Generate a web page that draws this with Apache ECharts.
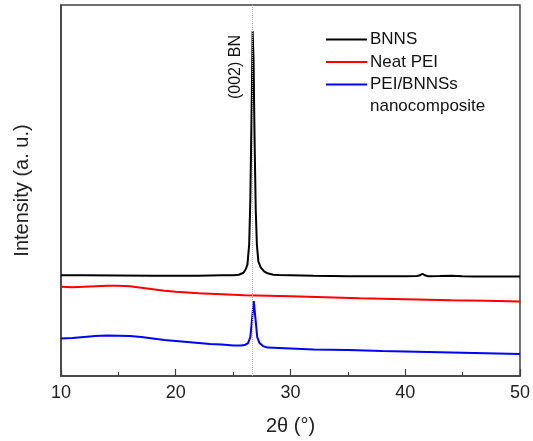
<!DOCTYPE html>
<html>
<head>
<meta charset="utf-8">
<script src="https://cdn.jsdelivr.net/npm/echarts@6/dist/echarts.min.js"></script>
<style>
  html, body { margin: 0; padding: 0; background: #fff; }
  #main { width: 533px; height: 441px; }
</style>
</head>
<body>
<div id="main"></div>
<script>
'use strict'
// 2-theta (deg) and intensity (a. u.)
var bnnsX = [10, 12, 15, 18, 20, 22, 24, 25, 25.5, 25.9, 26.1, 26.25, 26.4, 26.5, 26.6, 26.7,
  26.78, 26.87, 26.97, 27.07, 27.2, 27.4, 27.7, 28, 28.5, 29, 30, 32, 35, 38, 40, 41,
  41.3, 41.5, 41.7, 42, 43, 44, 45, 46, 48, 50]
var bnnsY = [101, 101, 100.7, 100.5, 100.4, 100.5, 101, 101, 101.5, 103.5, 107, 112, 132, 177, 257, 346,
  317, 237, 167, 132, 115, 109, 105, 103, 101.5, 101.2, 101, 100.5, 100, 100, 100, 100.2,
  101, 102.5, 101, 100, 100.2, 100.6, 100, 99.7, 99.7, 99.7]

var peiX = [10, 11, 12, 13, 14, 15, 16, 17, 18, 19, 20, 22, 24, 26, 28, 30, 33, 36, 40, 44, 47, 50]
var peiY = [89.5, 89, 89.5, 90, 90.5, 90.5, 90, 88.5, 87, 85.5, 84.5, 83, 82, 81, 80.5, 80, 79, 78, 77, 76, 75.5, 74.7]

var compX = [10, 11, 12, 13, 14, 15, 16, 17, 18, 19, 20, 21, 22, 23, 24, 25, 25.7, 26, 26.3, 26.5,
  26.65, 26.8, 26.95, 27.1, 27.3, 27.6, 28, 30, 32, 35, 38, 40, 42, 44, 46, 48, 50]
var compY = [37.5, 38, 39, 40, 40.5, 40.3, 40, 39, 37.5, 36, 35, 34, 33, 32, 31.5, 30.5, 30.5, 31, 33, 39,
  57, 75, 57, 39, 33, 30, 28.5, 27.5, 26.5, 26, 25, 24.5, 24, 23.5, 23, 22.5, 22]

var xTicks = [10, 20, 30, 40, 50]
var peakPos = 26.7

function pairs(xs, ys) {
  return xs.map(function(x, i) {
    return [x, ys[i]]
  })
}

var chart = echarts.init(document.getElementById('main'), null, { renderer: 'canvas' })
var font = 'Liberation Sans, Arial, sans-serif'

chart.setOption({
  animation: false,
  backgroundColor: '#fff',
  grid: {
    left: 61,
    right: 10,
    top: 5,
    bottom: 64,
    show: true,
    borderColor: '#404040',
    borderWidth: 1.5
  },
  legend: {
    left: 326,
    top: 31,
    padding: 0,
    orient: 'vertical',
    icon: 'rect',
    itemWidth: 41,
    itemHeight: 2,
    itemGap: 5.5,
    selectedMode: false,
    textStyle: { fontFamily: font, fontSize: 17, color: '#111', padding: [0, 0, 0, -2] },
    data: ['BNNS', 'Neat PEI', 'PEI/BNNSs']
  },
  xAxis: {
    type: 'value',
    min: xTicks[0],
    max: xTicks[xTicks.length - 1],
    interval: 10,
    name: '2θ (°)',
    nameLocation: 'middle',
    nameGap: 40,
    nameTextStyle: { fontFamily: font, fontSize: 20, color: '#222' },
    axisLine: { show: true, lineStyle: { color: '#404040', width: 1.5 } },
    axisTick: { show: true, inside: true, length: 7, lineStyle: { color: '#404040', width: 1.2 } },
    minorTick: { show: true, splitNumber: 2, length: 4, lineStyle: { color: '#404040', width: 1.2 } },
    axisLabel: { fontFamily: font, fontSize: 18, color: '#222', margin: 8 },
    splitLine: { show: false }
  },
  yAxis: {
    type: 'value',
    min: 0,
    max: 372,
    name: 'Intensity (a. u.)',
    nameLocation: 'middle',
    nameGap: 29,
    nameTextStyle: { fontFamily: font, fontSize: 20, color: '#222' },
    axisLine: { show: true, lineStyle: { color: '#404040', width: 1.5 } },
    axisTick: { show: false },
    axisLabel: { show: false },
    splitLine: { show: false }
  },
  graphic: [
    {
      type: 'text',
      left: 370,
      top: 98,
      style: { text: 'nanocomposite', fontFamily: font, fontSize: 17, fill: '#111' }
    },
    {
      type: 'text',
      x: 236,
      y: 67,
      rotation: Math.PI / 2,
      style: {
        text: '(002) BN',
        fontFamily: font,
        fontSize: 16,
        fill: '#111',
        align: 'center',
        verticalAlign: 'middle'
      }
    }
  ],
  series: [
    {
      name: 'BNNS',
      type: 'line',
      data: pairs(bnnsX, bnnsY),
      symbol: 'none',
      smooth: false,
      color: '#000',
      lineStyle: { width: 2 },
      z: 3,
      markLine: {
        silent: true,
        symbol: 'none',
        label: { show: false },
        lineStyle: { color: '#b0b0b0', type: 'dotted', width: 1 },
        data: [{ xAxis: peakPos }]
      }
    },
    {
      name: 'Neat PEI',
      type: 'line',
      data: pairs(peiX, peiY),
      symbol: 'none',
      color: '#ff0000',
      lineStyle: { width: 2 }
    },
    {
      name: 'PEI/BNNSs',
      type: 'line',
      data: pairs(compX, compY),
      symbol: 'none',
      color: '#0000ff',
      lineStyle: { width: 2 }
    }
  ]
})
</script>
</body>
</html>
